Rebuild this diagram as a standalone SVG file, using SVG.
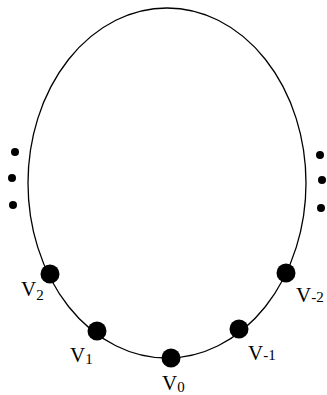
<svg xmlns="http://www.w3.org/2000/svg" width="327" height="395" viewBox="0 0 327 395">
<style>
.lbl{font-family:"Liberation Serif","DejaVu Serif",serif;font-size:21px;fill:#000}
.sub{font-size:15px}
.v{fill:#000}
.d{fill:#000}
</style>
<rect width="327" height="395" fill="#fff"/>
<g id="connectors">
<ellipse cx="167" cy="183" rx="139" ry="175" fill="none" stroke="#000" stroke-width="1.3"/>
</g>
<g id="dots-left">
<circle class="d" cx="15" cy="152" r="4"/>
<circle class="d" cx="12" cy="178" r="4"/>
<circle class="d" cx="13" cy="205" r="4"/>
</g>
<g id="dots-right">
<circle class="d" cx="320" cy="155" r="4"/>
<circle class="d" cx="322" cy="180" r="4"/>
<circle class="d" cx="321" cy="208" r="4"/>
</g>
<g id="v2"><circle class="v" cx="50" cy="274" r="9.5"/><text class="lbl" x="21" y="296">V<tspan class="sub" dy="4">2</tspan></text></g>
<g id="v1"><circle class="v" cx="97" cy="331" r="9.5"/><text class="lbl" x="70" y="362">V<tspan class="sub" dy="2">1</tspan></text></g>
<g id="v0"><circle class="v" cx="171" cy="358" r="9.5"/><text class="lbl" x="162" y="390">V<tspan class="sub" dy="2">0</tspan></text></g>
<g id="vm1"><circle class="v" cx="239" cy="329" r="9.5"/><text class="lbl" x="248" y="360">V<tspan class="sub" dy="0">-1</tspan></text></g>
<g id="vm2"><circle class="v" cx="286" cy="273" r="9.5"/><text class="lbl" x="296" y="302">V<tspan class="sub" dy="0">-2</tspan></text></g>
</svg>
